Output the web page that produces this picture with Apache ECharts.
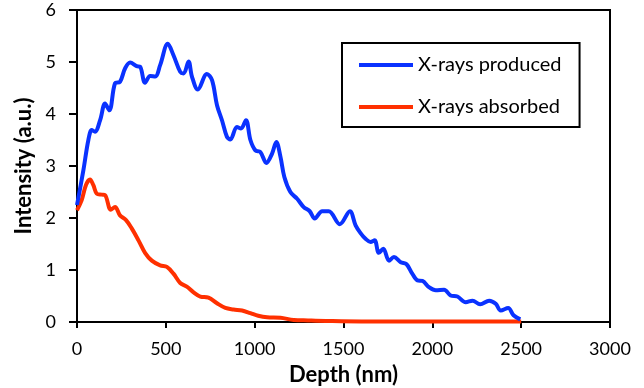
<!DOCTYPE html>
<html>
<head>
<meta charset="utf-8">
<script src="https://cdn.jsdelivr.net/npm/echarts@6/dist/echarts.min.js"></script>
<style>
  html, body { margin: 0; padding: 0; background: #fff; }
  #chart { width: 644px; height: 388px; }
</style>
</head>
<body>
<div id="chart"></div>
<script>
// valores
const producedDepth = [0, 36, 64, 83, 101, 130, 158, 182, 214, 242, 271, 299, 336, 355, 383, 412, 440, 468, 511, 543,
  581, 600, 628, 647, 680, 731, 760, 788, 816, 844, 863, 900, 923, 951, 976, 1004, 1032, 1066, 1098, 1122,
  1145, 1167, 1201, 1239, 1276, 1310, 1338, 1380, 1417, 1479, 1536, 1568, 1596, 1624, 1652, 1675, 1699, 1724, 1756, 1784,
  1822, 1855, 1887, 1916, 1944, 1981, 2019, 2066, 2103, 2141, 2188, 2226, 2269, 2320, 2357, 2385, 2427, 2457, 2495];
const producedValues = [2.25, 2.92, 3.50, 3.69, 3.66, 3.88, 4.20, 4.07, 4.59, 4.62, 4.88, 4.99, 4.92, 4.91, 4.60, 4.73, 4.72, 4.94, 5.35, 5.13,
  4.81, 4.78, 5.01, 4.72, 4.47, 4.77, 4.65, 4.17, 3.88, 3.56, 3.51, 3.75, 3.72, 3.88, 3.50, 3.30, 3.27, 3.06, 3.24, 3.46,
  3.18, 2.79, 2.50, 2.37, 2.21, 2.13, 1.99, 2.13, 2.13, 1.88, 2.13, 1.86, 1.71, 1.60, 1.54, 1.57, 1.33, 1.41, 1.18, 1.25,
  1.15, 1.11, 0.93, 0.80, 0.79, 0.67, 0.61, 0.62, 0.51, 0.49, 0.38, 0.41, 0.34, 0.41, 0.35, 0.22, 0.27, 0.13, 0.05];

const absorbedDepth = [0, 26, 51, 73, 92, 111, 139, 158, 190, 214, 242, 276, 308, 346, 383, 421, 468, 506, 543, 581,
  618, 656, 694, 740, 788, 835, 881, 929, 976, 1020, 1070, 1145, 1220, 1300, 1400, 1600, 2000, 2500];
const absorbedValues = [2.15, 2.34, 2.64, 2.74, 2.63, 2.47, 2.45, 2.44, 2.16, 2.21, 2.05, 1.96, 1.80, 1.57, 1.33, 1.18, 1.09, 1.06, 0.93, 0.75,
  0.68, 0.57, 0.49, 0.47, 0.36, 0.27, 0.24, 0.22, 0.17, 0.12, 0.09, 0.08, 0.04, 0.03, 0.02, 0.01, 0.01, 0.01];

const seriesNames = ['X-rays produced', 'X-rays absorbed'];
const seriesColors = ['#0a32ff', '#ff3000'];

const fonte = 'Lato, "Open Sans", sans-serif';

const chart = echarts.init(document.getElementById('chart'));

const option = {
  animation: false,
  grid: {
    left: 77, right: 34, top: 10, bottom: 66,
    outerBoundsMode: 'none',
    containLabel: false,
    show: true, borderColor: '#000', borderWidth: 2, backgroundColor: 'transparent'
  },
  legend: {
    orient: 'vertical',
    left: 342, top: 43,
    padding: [11, 18, 9, 17],
    itemGap: 20,
    itemWidth: 54, itemHeight: 4,
    borderColor: '#000', borderWidth: 2,
    data: seriesNames.map((n, i) => ({ name: n, icon: 'rect', itemStyle: { color: seriesColors[i] } })),
    textStyle: { fontFamily: fonte, fontSize: 20, color: '#000', lineHeight: 22 }
  },
  xAxis: {
    type: 'value',
    min: 0, max: 3000, interval: 500,
    name: 'Depth (nm)', nameLocation: 'middle', nameGap: 42,
    nameTextStyle: { fontFamily: fonte, fontSize: 22, fontWeight: 'bold', color: '#000' },
    axisLine: { lineStyle: { color: '#000', width: 2 } },
    axisTick: { show: true, length: 6, lineStyle: { color: '#000', width: 2 } },
    axisLabel: { fontFamily: fonte, fontSize: 18, color: '#000', margin: 18, formatter: v => String(v) },
    splitLine: { show: false }
  },
  yAxis: {
    type: 'value',
    min: 0, max: 6, interval: 1,
    name: 'Intensity (a.u.)', nameLocation: 'middle', nameGap: 41,
    nameTextStyle: { fontFamily: fonte, fontSize: 22, fontWeight: 'bold', color: '#000' },
    axisLine: { show: true, lineStyle: { color: '#000', width: 2 } },
    axisTick: { show: true, length: 8, lineStyle: { color: '#000', width: 2 } },
    axisLabel: { fontFamily: fonte, fontSize: 18, color: '#000', margin: 21 },
    splitLine: { show: false }
  },
  series: [
    {
      name: seriesNames[0],
      type: 'line',
      smooth: 0.35,
      showSymbol: false,
      data: producedDepth.map((d, i) => [d, producedValues[i]]),
      lineStyle: { color: seriesColors[0], width: 4 },
      itemStyle: { color: seriesColors[0] },
      z: 3
    },
    {
      name: seriesNames[1],
      type: 'line',
      smooth: 0.35,
      showSymbol: false,
      data: absorbedDepth.map((d, i) => [d, absorbedValues[i]]),
      lineStyle: { color: seriesColors[1], width: 4 },
      itemStyle: { color: seriesColors[1] },
      z: 2
    }
  ]
};

chart.setOption(option);
</script>
</body>
</html>
